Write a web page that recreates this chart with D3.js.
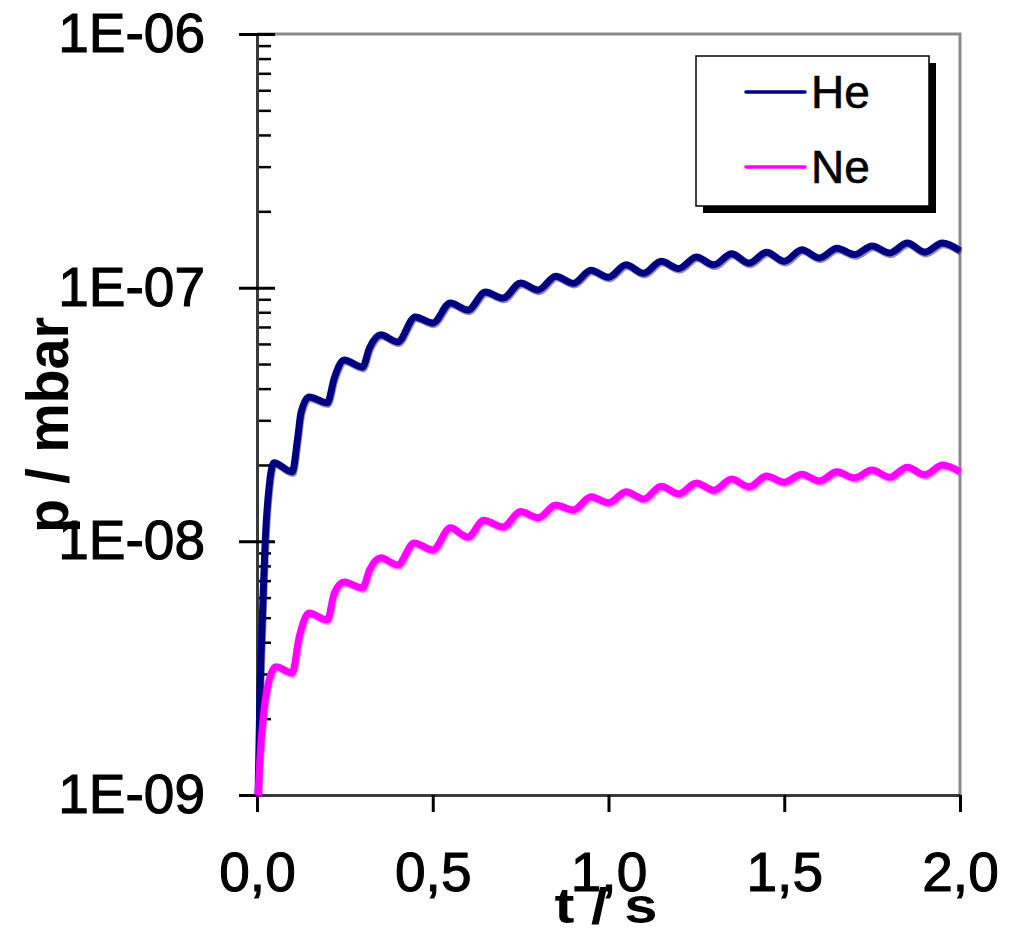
<!DOCTYPE html>
<html>
<head>
<meta charset="utf-8">
<script src="https://cdnjs.cloudflare.com/ajax/libs/d3/7.8.5/d3.min.js"></script>
<style>
  body { margin: 0; background: #fff; }
  svg { display: block; font-family: "Liberation Sans", Arial, sans-serif; }
</style>
</head>
<body>
<svg id="chart" width="1013" height="929"></svg>
<script>
// Data
var seriesNames = ['He', 'Ne'];
var seriesColors = ['#000080', '#ff00ff'];

var tHe = [0.003, 0.008, 0.015, 0.025, 0.035, 0.048, 0.10, 0.116, 0.125, 0.148,
  0.20, 0.22, 0.248, 0.30, 0.32, 0.352, 0.40, 0.45, 0.50, 0.55, 0.60, 0.65, 0.70,
  0.75, 0.80, 0.85, 0.90, 0.95, 1.00, 1.05, 1.10, 1.15, 1.20, 1.25, 1.30, 1.35,
  1.40, 1.45, 1.50, 1.55, 1.60, 1.65, 1.70, 1.75, 1.80, 1.85, 1.90, 1.95, 2.00];
var pHe = [1.0e-9, 2.37e-9, 4.9e-9, 1.11e-8, 1.67e-8, 2.04e-8, 1.88e-8, 2.58e-8, 3.21e-8, 3.71e-8,
  3.52e-8, 4.41e-8, 5.19e-8, 4.86e-8, 5.78e-8, 6.52e-8, 6.11e-8, 7.67e-8, 7.26e-8, 8.71e-8, 8.17e-8, 9.61e-8, 9.10e-8,
  1.044e-7, 9.8e-8, 1.11e-7, 1.04e-7, 1.17e-7, 1.10e-7, 1.23e-7, 1.14e-7, 1.27e-7, 1.19e-7, 1.32e-7, 1.23e-7, 1.36e-7,
  1.25e-7, 1.38e-7, 1.27e-7, 1.41e-7, 1.31e-7, 1.43e-7, 1.35e-7, 1.46e-7, 1.37e-7, 1.50e-7, 1.38e-7, 1.50e-7, 1.40e-7];

var tNe = [0.003, 0.008, 0.017, 0.03, 0.054, 0.10, 0.12, 0.148, 0.20, 0.22, 0.248,
  0.30, 0.32, 0.352, 0.40, 0.447, 0.50, 0.55, 0.60, 0.645, 0.70, 0.75, 0.80, 0.85,
  0.90, 0.95, 1.00, 1.05, 1.10, 1.15, 1.20, 1.25, 1.30, 1.35, 1.40, 1.45, 1.50,
  1.55, 1.60, 1.65, 1.70, 1.75, 1.80, 1.85, 1.90, 1.95, 2.00];
var pNe = [1.0e-9, 1.37e-9, 1.98e-9, 2.67e-9, 3.20e-9, 3.03e-9, 4.20e-9, 5.22e-9, 4.90e-9, 6.26e-9, 6.92e-9,
  6.55e-9, 7.71e-9, 8.61e-9, 8.07e-9, 9.86e-9, 9.25e-9, 1.13e-8, 1.04e-8, 1.21e-8, 1.14e-8, 1.31e-8, 1.24e-8, 1.39e-8,
  1.33e-8, 1.50e-8, 1.42e-8, 1.57e-8, 1.47e-8, 1.65e-8, 1.54e-8, 1.70e-8, 1.59e-8, 1.76e-8, 1.64e-8, 1.81e-8, 1.71e-8,
  1.84e-8, 1.73e-8, 1.88e-8, 1.78e-8, 1.91e-8, 1.79e-8, 1.96e-8, 1.83e-8, 2.00e-8, 1.88e-8];

var xTicks = [0, 0.5, 1.0, 1.5, 2.0];
var yTicks = [1e-9, 1e-8, 1e-7, 1e-6];
var yTickLabels = ['1E-09', '1E-08', '1E-07', '1E-06'];

// Plot area
var plot = {left: 257, right: 960, top: 34, bottom: 795};

var svg = d3.select('svg#chart');

var xScale = d3.scaleLinear().domain([0, 2]).range([plot.left, plot.right]);
var yScale = d3.scaleLog().domain([1e-9, 1e-6]).range([plot.bottom, plot.top]);

var commaFormat = d3.formatLocale({decimal: ',', thousands: '.', grouping: [3], currency: ['', '']}).format('.1f');

// Top and right frame (grey)
svg.append('path')
  .attr('d', 'M' + plot.left + ',' + plot.top + 'H' + plot.right + 'V' + plot.bottom)
  .attr('fill', 'none')
  .attr('stroke', '#8a8a8a')
  .attr('stroke-width', 3);

// Minor ticks on the log axis, inside
var minorTicks = yScale.ticks().filter(function(d) { return yTicks.indexOf(d) < 0; });
var yMinor = d3.axisRight(yScale).tickValues(minorTicks).tickFormat('').tickSizeInner(14).tickSizeOuter(0);
svg.append('g')
  .attr('class', 'y-minor')
  .attr('transform', 'translate(' + plot.left + ',0)')
  .call(yMinor);

// Major y ticks crossing the axis
var yMajor = d3.axisLeft(yScale).tickValues(yTicks)
  .tickFormat(function(d, i) { return yTickLabels[i]; })
  .tickSizeInner(18).tickSizeOuter(0).tickPadding(34);
var gy = svg.append('g')
  .attr('class', 'y-axis')
  .attr('transform', 'translate(' + plot.left + ',0)')
  .call(yMajor);
gy.selectAll('.tick line').attr('x2', 18).attr('x1', -18);

// x axis with ticks pointing outward
var xAxis = d3.axisBottom(xScale).tickValues(xTicks).tickFormat(commaFormat)
  .tickSizeInner(17).tickSizeOuter(0).tickPadding(40);
var gx = svg.append('g')
  .attr('class', 'x-axis')
  .attr('transform', 'translate(0,' + plot.bottom + ')')
  .call(xAxis);

// heavier label text, the original looks a bit fat
svg.selectAll('.tick text')
  .attr('font-size', 55)
  .attr('fill', '#000')
  .attr('stroke', '#000')
  .attr('stroke-width', 1.1);

svg.selectAll('.domain').attr('stroke', '#3a3a3a').attr('stroke-width', 3);
svg.selectAll('.tick line').attr('stroke', '#000').attr('stroke-width', 3);
svg.selectAll('.y-minor .tick line').attr('stroke-width', 2.5);
svg.select('.y-minor .domain').remove();

// Curves
var line = d3.line()
  .x(function(d) { return xScale(d[0]); })
  .y(function(d) { return yScale(d[1]); })
  .curve(d3.curveMonotoneX);

var series = [d3.zip(tHe, pHe), d3.zip(tNe, pNe)];
series.forEach(function(data, index) {
  // soft shadow a touch below, like the original rendering
  svg.append('path')
    .datum(data)
    .attr('d', line)
    .attr('transform', 'translate(1,2)')
    .attr('fill', 'none')
    .attr('stroke', seriesColors[index])
    .attr('stroke-opacity', 0.45)
    .attr('stroke-width', 6.5);
  svg.append('path')
    .datum(data)
    .attr('d', line)
    .attr('fill', 'none')
    .attr('stroke', seriesColors[index])
    .attr('stroke-width', 7)
    .attr('stroke-linejoin', 'round');
});

// Legend
var legend = svg.append('g').attr('class', 'legend');
legend.append('rect')
  .attr('x', 703).attr('y', 63).attr('width', 233).attr('height', 150)
  .attr('fill', '#000');
legend.append('rect')
  .attr('x', 696).attr('y', 56).attr('width', 233).attr('height', 150)
  .attr('fill', '#fff').attr('stroke', '#000').attr('stroke-width', 1.5);
seriesNames.forEach(function(name, index) {
  var y = 92 + index * 75;
  legend.append('line')
    .attr('x1', 746).attr('x2', 805).attr('y1', y).attr('y2', y)
    .attr('stroke', seriesColors[index]).attr('stroke-width', 3.5)
    .attr('stroke-linecap', 'round');
  legend.append('text')
    .attr('x', 811).attr('y', y + 16)
    .attr('font-size', 46)
    .attr('stroke', '#000').attr('stroke-width', 0.6)
    .text(name);
});

// Axis titles
svg.append('text')
  .attr('x', 606).attr('y', 923)
  .attr('text-anchor', 'middle')
  .attr('font-size', 50).attr('font-weight', 'bold')
  .attr('textLength', 103).attr('lengthAdjust', 'spacingAndGlyphs')
  .text('t / s');

svg.append('text')
  .attr('transform', 'translate(68,425) rotate(-90)')
  .attr('text-anchor', 'middle')
  .attr('font-size', 60).attr('font-weight', 'bold')
  .attr('textLength', 216).attr('lengthAdjust', 'spacingAndGlyphs')
  .text('p / mbar');
</script>
</body>
</html>
